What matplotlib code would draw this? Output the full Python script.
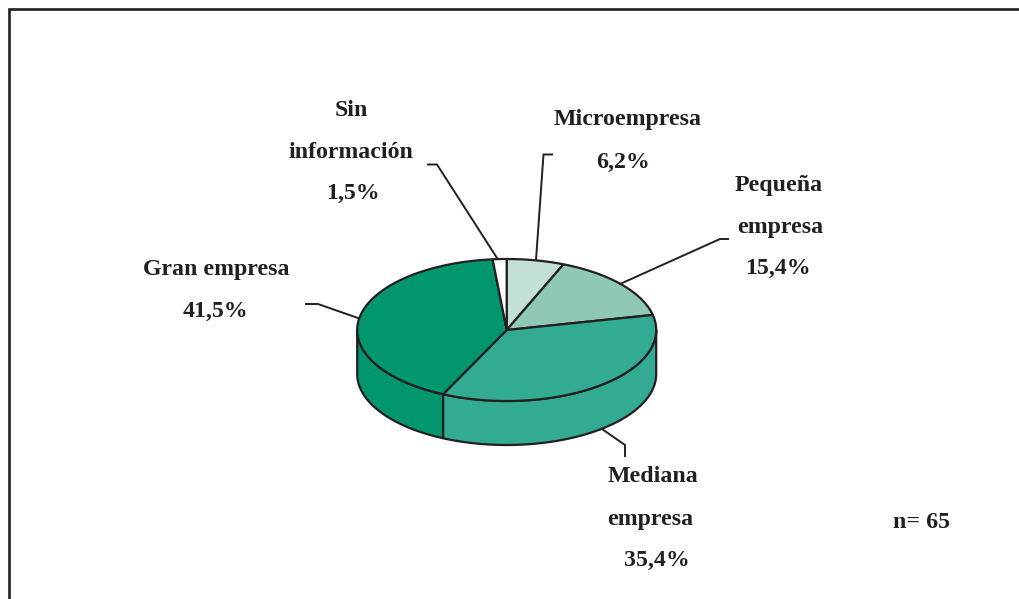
import numpy as np
import matplotlib
matplotlib.use("Agg")
import matplotlib.pyplot as plt
from matplotlib.patches import Polygon

categories = ["Microempresa", "Pequeña empresa", "Mediana empresa", "Gran empresa", "Sin información"]
shares = [6.2, 15.4, 35.4, 41.5, 1.5]
colors = ["#c3e0d6", "#8fc9b5", "#33ab92", "#00976f", "#ffffff"]
sample_label = "n= 65"

W, H = 1019, 599
CX, CY, RX, RY, DEPTH = 506.7, 330, 149.5, 71, 44
INK = "#231f20"

fig = plt.figure(figsize=(W / 100, H / 100), dpi=100, facecolor="white")
ax = fig.add_axes([0, 0, 1, 1])
ax.set_xlim(0, W)
ax.set_ylim(H, 0)
ax.axis("off")


def rim(a0, a1, dy=0.0, n=120):
    t = np.radians(np.linspace(a0, a1, n))
    return np.column_stack([CX + RX * np.sin(t), CY + dy - RY * np.cos(t)])


edges = np.concatenate([[0], np.cumsum(shares)]) / sum(shares) * 360

# side wall: only the front half of the pie (90..270 degrees clockwise from top)
for i, color in enumerate(colors):
    a0, a1 = max(edges[i], 90), min(edges[i + 1], 270)
    if a1 <= a0:
        continue
    pts = np.vstack([rim(a0, a1), rim(a0, a1, DEPTH)[::-1]])
    ax.add_patch(Polygon(pts, closed=True, facecolor=color, edgecolor=INK, lw=1.6, joinstyle="round"))

# top face
for i, color in enumerate(colors):
    pts = np.vstack([[CX, CY], rim(edges[i], edges[i + 1])])
    ax.add_patch(Polygon(pts, closed=True, facecolor=color, edgecolor=INK, lw=1.6, joinstyle="round"))

# frame: top and left sides only in the visible crop
ax.plot([9.3, 9.3, 1019], [599, 9.3, 9.3], color=INK, lw=1.9, solid_joinstyle="miter")

# leader lines
leaders = [
    [(536, 260), (543.5, 154.5), (552, 154.5)],
    [(620, 284), (720, 239), (728, 239)],
    [(602, 429), (625, 445), (625, 456)],
    [(358, 318), (318, 304), (306, 304)],
    [(497, 258), (437, 164.5), (428, 164.5)],
]
for line in leaders:
    xs, ys = zip(*line)
    ax.plot(xs, ys, color=INK, lw=1.4, solid_joinstyle="miter")

text_style = dict(family="Liberation Serif", weight="bold", fontsize=17.2, color=INK, ha="center", va="center")
labels = [
    (628, 120, categories[0]),
    (623, 162, f"{shares[0]:.1f}%".replace(".", ",")),
    (779, 186, "Pequeña"),
    (780, 227, "empresa"),
    (778, 268, f"{shares[1]:.1f}%".replace(".", ",")),
    (653, 477, "Mediana"),
    (650, 519, "empresa"),
    (657, 560, f"{shares[2]:.1f}%".replace(".", ",")),
    (216, 270, categories[3]),
    (215, 311, f"{shares[3]:.1f}%".replace(".", ",")),
    (351, 111, "Sin"),
    (351, 152, "información"),
    (353, 193, f"{shares[4]:.1f}%".replace(".", ",")),
    (922, 523, sample_label),
]
for x, y, s in labels:
    ax.text(x, y, s, **text_style)

fig.savefig("out.png", dpi=100, facecolor="white")
